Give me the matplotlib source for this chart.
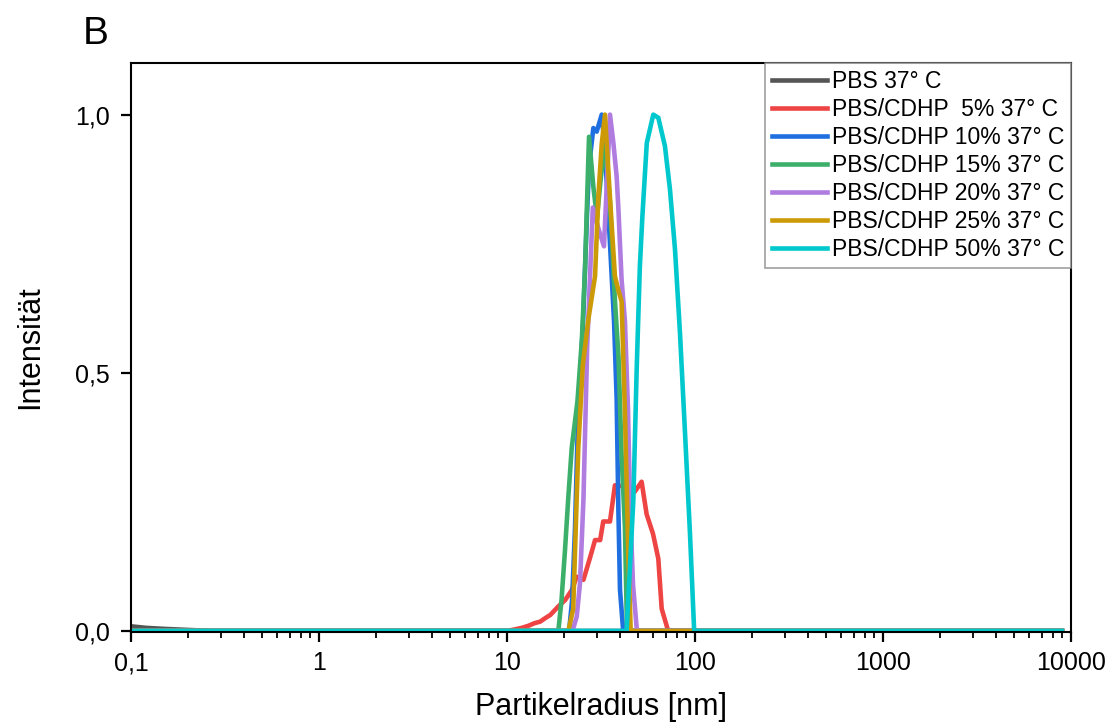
import matplotlib
matplotlib.use("Agg")
import matplotlib.pyplot as plt
from matplotlib.ticker import FixedLocator, LogLocator, NullFormatter

plt.rcParams['font.family'] = ['Liberation Sans', 'DejaVu Sans']

# ---- data ----
labels = ["PBS 37° C", "PBS/CDHP  5% 37° C", "PBS/CDHP 10% 37° C",
          "PBS/CDHP 15% 37° C", "PBS/CDHP 20% 37° C", "PBS/CDHP 25% 37° C",
          "PBS/CDHP 50% 37° C"]
colors = ["#555555", "#EE4444", "#1F6FE0", "#3CB06A", "#B07CE0", "#CC9A06", "#00C8CC"]

x_pbs = [0.1, 0.12, 0.15, 0.2, 0.27, 1.0, 8950]
y_pbs = [0.009, 0.006, 0.004, 0.002, 0.0, 0.0, 0.0]

x_5 = [0.1, 10.0, 11.0, 12.0, 13.0, 14.0, 15.0, 16.0, 17.0, 18.7, 20.4, 22.1, 23.5,
       25.5, 27.6, 29.4, 31.3, 32.5, 35.3, 37.5, 42.5, 47.9, 52.0, 55.3, 59.8, 63.8,
       66.5, 72.0, 8950]
y_5 = [0.0, 0.0, 0.003, 0.006, 0.010, 0.015, 0.018, 0.025, 0.031, 0.047, 0.060, 0.079,
       0.105, 0.099, 0.141, 0.176, 0.176, 0.212, 0.212, 0.282, 0.28, 0.27, 0.289,
       0.226, 0.188, 0.14, 0.043, 0.0, 0.0]

x_10 = [0.1, 21.4, 22.2, 23.0, 23.9, 25.4, 26.6, 27.3, 28.8, 30.0, 31.9, 33.2, 35.3,
        37.1, 38.3, 39.1, 39.9, 41.5, 8950]
y_10 = [0.0, 0.0, 0.06, 0.20, 0.42, 0.60, 0.80, 0.90, 0.974, 0.967, 1.0, 0.93, 0.75,
        0.60, 0.45, 0.24, 0.08, 0.0, 0.0]

x_15 = [0.1, 18.75, 19.5, 20.35, 21.2, 22.1, 23.7, 25.0, 26.0, 26.7, 27.3, 28.8, 30.1,
        31.6, 33.2, 35.3, 37.5, 39.2, 40.7, 42.4, 43.5, 8950]
y_15 = [0.0, 0.0, 0.06, 0.157, 0.26, 0.355, 0.445, 0.562, 0.70, 0.84, 0.957, 0.86,
        0.80, 0.88, 0.94, 0.83, 0.64, 0.53, 0.34, 0.20, 0.0, 0.0]

x_20 = [0.1, 22.3, 23.5, 24.45, 25.5, 26.7, 28.6, 30.6, 32.8, 35.3, 36.8, 38.3, 39.1,
        40.7, 42.4, 44.0, 45.1, 46.8, 49.1, 8950]
y_20 = [0.0, 0.0, 0.028, 0.093, 0.254, 0.55, 0.82, 0.78, 0.745, 1.0, 0.945, 0.88,
        0.82, 0.68, 0.60, 0.43, 0.25, 0.09, 0.0, 0.0]

x_25 = [0.1, 21.2, 22.5, 23.95, 25.3, 27.1, 29.4, 30.6, 31.9, 33.2, 35.3, 37.5, 39.1,
        40.7, 42.4, 44.2, 45.5, 8950]
y_25 = [0.0, 0.0, 0.043, 0.355, 0.514, 0.604, 0.687, 0.839, 0.943, 1.0, 0.839, 0.687,
        0.66, 0.638, 0.424, 0.147, 0.0, 0.0]

x_50 = [0.1, 43.3, 47.0, 49.0, 50.9, 52.5, 55.4, 60.0, 63.8, 69.2, 73.6, 78.3, 83.2,
        88.5, 94.0, 99.0, 8950]
y_50 = [0.0, 0.0, 0.254, 0.512, 0.706, 0.803, 0.945, 1.0, 0.994, 0.939, 0.855, 0.738,
        0.577, 0.383, 0.19, 0.0, 0.0]

series_x = [x_pbs, x_5, x_10, x_15, x_20, x_25, x_50]
series_y = [y_pbs, y_5, y_10, y_15, y_20, y_25, y_50]

x_ticks = [0.1, 1, 10, 100, 1000, 10000]
x_ticklabels = ["0,1", "1", "10", "100", "1000", "10000"]
y_ticks = [0.0, 0.5, 1.0]
y_ticklabels = ["0,0", "0,5", "1,0"]

# ---- figure ----
fig = plt.figure(figsize=(11.17, 7.28), dpi=100)
ax = fig.add_axes([0.1173, 0.1319, 0.8415, 0.7816])

for xs, ys, c, lab in zip(series_x, series_y, colors, labels):
    ax.plot(xs, ys, color=c, lw=3.3, label=lab, solid_joinstyle='round')

ax.set_xscale('log')
ax.set_xlim(0.1, 10000)
ax.set_ylim(-0.002, 1.10)

ax.xaxis.set_major_locator(FixedLocator(x_ticks))
ax.set_xticklabels(x_ticklabels)
ax.xaxis.set_minor_locator(LogLocator(base=10, subs=range(2, 10), numticks=50))
ax.xaxis.set_minor_formatter(NullFormatter())
ax.set_yticks(y_ticks)
ax.set_yticklabels(y_ticklabels)

ax.tick_params(axis='both', which='major', direction='out', length=7, width=1.6,
               labelsize=18)
ax.tick_params(axis='x', which='major', pad=7)
ax.tick_params(axis='y', which='major', pad=8)
ax.tick_params(axis='x', which='minor', direction='out', length=4.5, width=1.3)
ax.tick_params(top=False, right=False, which='both')
for s in ax.spines.values():
    s.set_linewidth(1.5)

ax.set_xlabel("Partikelradius [nm]", fontsize=22, labelpad=12)
ax.set_ylabel("Intensität", fontsize=22, labelpad=22)

leg = ax.legend(loc='upper right', fontsize=16.5, frameon=True, fancybox=False,
                borderaxespad=0.0, handlelength=2.4, handletextpad=0.2,
                labelspacing=0.22, borderpad=0.3)
leg.get_frame().set_edgecolor('#888888')
leg.get_frame().set_linewidth(1.2)
for ln in leg.get_lines():
    ln.set_linewidth(3.3)

fig.text(0.074, 0.94, "B", fontsize=28)

fig.savefig("out.png", dpi=100)
